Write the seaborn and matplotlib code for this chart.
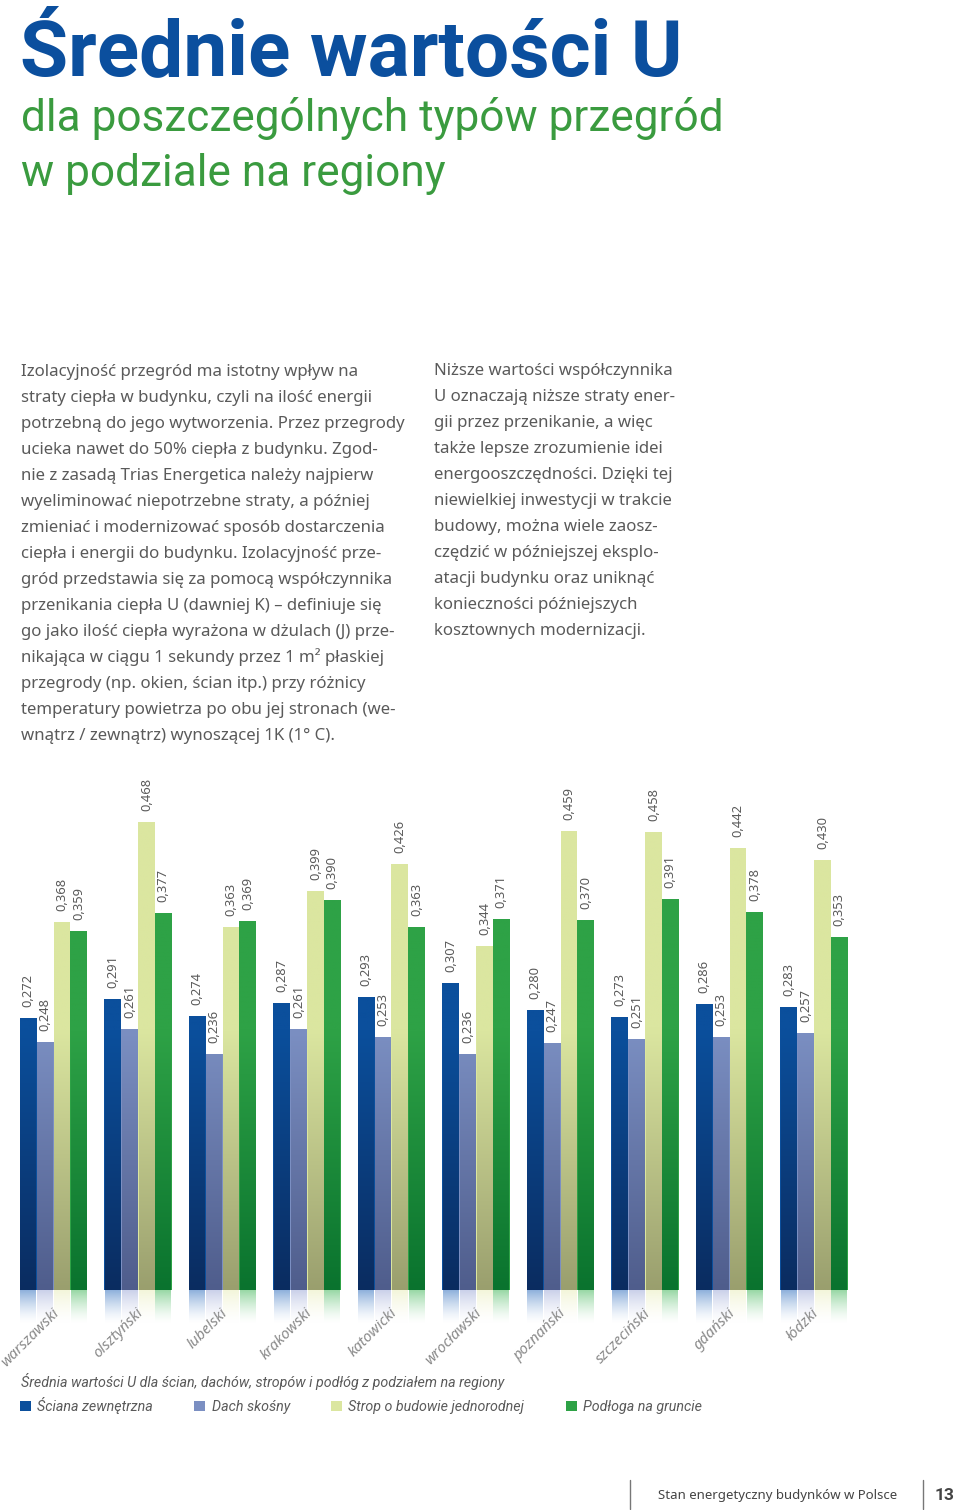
import numpy as np
import pandas as pd
import matplotlib
matplotlib.use("Agg")
import matplotlib.pyplot as plt
import seaborn as sns
from matplotlib.colors import to_rgb

# data
regions = ["warszawski", "olsztyński", "lubelski", "krakowski", "katowicki",
           "wrocławski", "poznański", "szczeciński", "gdański", "łódzki"]
series = ["Ściana zewnętrzna", "Dach skośny", "Strop o budowie jednorodnej", "Podłoga na gruncie"]
sciana = [0.272, 0.291, 0.274, 0.287, 0.293, 0.307, 0.280, 0.273, 0.286, 0.283]
dach = [0.248, 0.261, 0.236, 0.261, 0.253, 0.236, 0.247, 0.251, 0.253, 0.257]
strop = [0.368, 0.468, 0.363, 0.399, 0.426, 0.344, 0.459, 0.458, 0.442, 0.430]
podloga = [0.359, 0.377, 0.369, 0.390, 0.363, 0.371, 0.370, 0.391, 0.378, 0.353]

top_colors = ["#0b4f9c", "#7b8fc2", "#dbe6a0", "#2ea246"]
bottom_colors = ["#0a2c60", "#4f5d8c", "#9a9f6e", "#0a732e"]
refl_colors = ["#6f9bd2", "#bcc4e4", "#f0f3d0", "#7ccd8c"]

title_font = ["Roboto", "DejaVu Sans"]
body_font = ["Noto Sans", "DejaVu Sans"]
GREY = "#5a5a5a"

W, H = 960, 1510


def fx(x):
    return x / W


def fy(y):
    return 1 - y / H


df = pd.DataFrame({
    "region": regions * 4,
    "typ": [s for s in series for _ in regions],
    "u": sciana + dach + strop + podloga,
})

sns.set_theme(style="white")
fig = plt.figure(figsize=(W / 100, H / 100), dpi=100)
fig.patch.set_facecolor("white")

# heading
fig.text(fx(20), fy(76), "Średnie wartości U", family=title_font, weight="bold",
         fontsize=56.5, color="#0b4f9e", va="baseline")
fig.text(fx(21), fy(131), "dla poszczególnych typów przegród", family=title_font,
         fontsize=31.8, color="#3a9b3f", va="baseline")
fig.text(fx(21), fy(186), "w podziale na regiony", family=title_font,
         fontsize=31.8, color="#3a9b3f", va="baseline")

left_col = [
    "Izolacyjność przegród ma istotny wpływ na",
    "straty ciepła w budynku, czyli na ilość energii",
    "potrzebną do jego wytworzenia. Przez przegrody",
    "ucieka nawet do 50% ciepła z budynku. Zgod-",
    "nie z zasadą Trias Energetica należy najpierw",
    "wyeliminować niepotrzebne straty, a później",
    "zmieniać i modernizować sposób dostarczenia",
    "ciepła i energii do budynku. Izolacyjność prze-",
    "gród przedstawia się za pomocą współczynnika",
    "przenikania ciepła U (dawniej K) – definiuje się",
    "go jako ilość ciepła wyrażona w dżulach (J) prze-",
    "nikająca w ciągu 1 sekundy przez 1 m² płaskiej",
    "przegrody (np. okien, ścian itp.) przy różnicy",
    "temperatury powietrza po obu jej stronach (we-",
    "wnątrz / zewnątrz) wynoszącej 1K (1° C).",
]
right_col = [
    "Niższe wartości współczynnika",
    "U oznaczają niższe straty ener-",
    "gii przez przenikanie, a więc",
    "także lepsze zrozumienie idei",
    "energooszczędności. Dzięki tej",
    "niewielkiej inwestycji w trakcie",
    "budowy, można wiele zaosz-",
    "czędzić w późniejszej eksplo-",
    "atacji budynku oraz uniknąć",
    "konieczności późniejszych",
    "kosztownych modernizacji.",
]
for i, line in enumerate(left_col):
    fig.text(fx(21), fy(376 + 26 * i), line, family=body_font, fontsize=12.1,
             color=GREY, va="baseline")
for i, line in enumerate(right_col):
    fig.text(fx(434), fy(375 + 26 * i), line, family=body_font, fontsize=12.1,
             color=GREY, va="baseline")

# chart: 1 px per 0.001, baseline at y=1290 px
ymin, ymax = -0.040, 0.520
ax = fig.add_axes([fx(11.25), fy(1290 - ymin * 1000), 845 / W, (ymax - ymin) * 1000 / H])
sns.barplot(data=df, x="region", y="u", hue="typ", palette=top_colors, width=0.8,
            linewidth=0, saturation=1, ax=ax)

inset = 0.007
for j, cont in enumerate(ax.containers):
    top = np.array(to_rgb(top_colors[j]))
    bot = np.array(to_rgb(bottom_colors[j]))
    refl = np.array(to_rgb(refl_colors[j]))
    for patch in cont.patches:
        x0 = patch.get_x() + inset
        x1 = patch.get_x() + patch.get_width() - inset
        h = patch.get_height()
        ys = np.linspace(h, 0, 128)
        t = np.clip(1 - ys / 0.26, 0, 1)[:, None]
        rgb = (1 - t) * top + t * bot
        ax.imshow(rgb[:, None, :], extent=(x0, x1, 0, h), aspect="auto",
                  interpolation="bilinear", zorder=3)
        # fading reflection under the baseline
        a = np.linspace(0.85, 0.0, 64)
        rgba = np.zeros((64, 1, 4))
        rgba[:, 0, :3] = refl
        rgba[:, 0, 3] = a ** 1.5
        ax.imshow(rgba, extent=(x0, x1, -0.034, 0), aspect="auto",
                  interpolation="bilinear", zorder=3)
        ax.text(patch.get_x() + patch.get_width() / 2, h + 0.011, f"{h:.3f}".replace(".", ","),
                rotation=90, ha="center", va="bottom", family=body_font,
                fontsize=9.3, color=GREY, zorder=4)

for i, name in enumerate(regions):
    ax.text(i + 0.04, -0.021, name, rotation=45, rotation_mode="anchor",
            ha="right", va="center", family=body_font, style="italic",
            fontsize=10.8, color="#8a8a8a", zorder=5)

ax.set_xlim(-0.5, len(regions) - 0.5)
ax.set_ylim(ymin, ymax)
ax.set_xticks([])
ax.set_yticks([])
ax.set_xlabel("")
ax.set_ylabel("")
sns.despine(ax=ax, left=True, bottom=True)

sns.move_legend(ax, "upper left", bbox_to_anchor=(fx(20), fy(1397)),
                bbox_transform=fig.transFigure, ncol=4, frameon=False, title=None,
                handlelength=0.75, handleheight=0.75, handletextpad=0.45,
                columnspacing=2.9, borderaxespad=0, borderpad=0,
                prop={"family": title_font, "style": "italic", "size": 10.3})
for t in ax.get_legend().get_texts():
    t.set_color(GREY)

fig.text(fx(21), fy(1387), "Średnia wartości U dla ścian, dachów, stropów i podłóg z podziałem na regiony",
         family=title_font, style="italic", fontsize=10.3, color=GREY, va="baseline")

# footer
fig.add_artist(plt.Line2D([fx(630), fx(630)], [fy(1480), fy(1509)], color="#777777", lw=1))
fig.add_artist(plt.Line2D([fx(923), fx(923)], [fy(1480), fy(1509)], color="#777777", lw=1))
fig.text(fx(658), fy(1499), "Stan energetyczny budynków w Polsce", family=body_font,
         fontsize=9.5, color="#444444", va="baseline")
fig.text(fx(935), fy(1500), "13", family=title_font, weight="bold",
         fontsize=12.5, color="#444444", va="baseline")

fig.savefig("out.png", dpi=100, facecolor="white")
